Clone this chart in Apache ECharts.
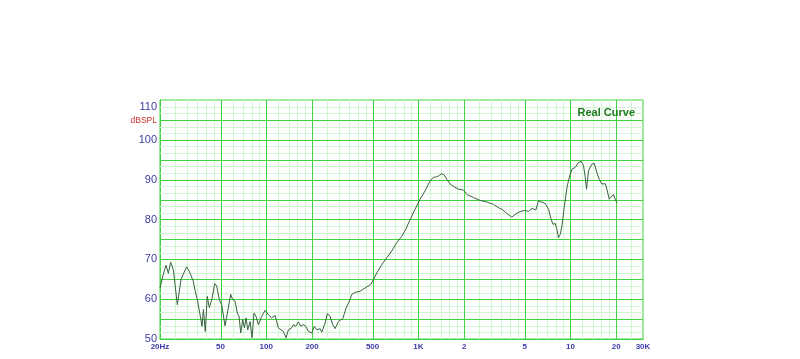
<!DOCTYPE html>
<html>
<head>
<meta charset="utf-8">
<script src="https://cdn.jsdelivr.net/npm/echarts@6/dist/echarts.min.js"></script>
<style>
html,body{margin:0;padding:0;background:#fff;}
#chart{width:800px;height:359px;}
</style>
</head>
<body>
<div id="chart"></div>
<script>
// Frequency (Hz) and SPL (dB)
var freqHz = [20,21.0,21.9,22.7,23.5,24.5,26.0,27.5,29.9,31.2,33.1,34.0,35.2,36.7,37.8,38.6,39.7,40.9,42.2,43.8,45.8,47.2,49.1,50.9,53.5,55.5,58.3,60.1,62.3,64.5,66.2,67.9,70.0,71.8,73.6,75.5,78.2,80.6,83.0,85.6,88.7,93.3,98.2,103.2,108.6,114.2,120.0,129.5,134.9,139.7,146.9,150.6,156.2,162.5,168.3,175.4,181.6,189.2,199.0,207,214.7,225.8,
  231.6,243.6,252.2,262.5,273.6,283.3,297.9,318.4,334.9,351.9,364.9,383.9,414,446.5,486.6,506,533.3,575.4,620,668.5,721,778,830,873,952,1027,1107,1195,1256,1322,1377,1427,1477,1539,1618,1719,1836,1979,2084,2303,2547,2820,3120,3415,
  3540,3820,4120,4335,4670,5040,5300,5575,5925,6165,6325,6825,7180,7470,7670,7940,8150,8340,8570,8790,9100,9485,9820,10230,10750,11300,11780,12190,12510,12760,13150,13840,14330,14920,15450,16100,16930,17370,17990,18540,19190,19690,20220];
var splDb = [62.8,66.2,68.5,66.5,69.3,67.3,58.6,65.0,68.1,67.0,64.5,62.2,59.9,56.0,53.2,57.4,51.9,60.7,57.9,59.9,63.9,63.3,59.9,58.6,53.3,56.5,61.2,59.9,59.5,56.5,55.7,51.5,54.9,52.8,55.3,52.3,54.4,50.3,56.5,55.7,53.6,55.7,57.2,56.1,55.3,55.9,52.8,51.9,50.3,52.3,52.8,53.6,53.2,54.3,53.2,53.6,53.2,51.9,51.5,53.2,52.3,52.6,
  51.7,54.0,56.4,55.7,53.6,52.6,54.4,55.1,57.8,59.5,61.2,61.7,62.0,62.8,63.7,64.9,66.6,68.7,70.4,72.1,74.2,75.8,77.7,79.6,82.6,85.1,87.2,89.7,90.6,90.7,91.1,91.5,91.2,90.1,88.9,88.2,87.6,87.4,86.3,85.5,84.8,84.4,83.8,82.8,
  82.6,81.5,80.6,81.3,82.0,82.3,82.0,82.8,82.4,84.7,85.1,84.0,82.6,80.0,78.8,79.0,77.5,75.4,76.3,78.4,83.0,88.0,90.6,92.6,93.1,94.3,94.6,93.5,90.6,87.6,92.2,93.9,94.1,91.8,90.1,88.9,89.0,87.6,85.1,85.5,86.3,85.1,84.2];

var xTickFreqs = [20,50,100,200,500,1000,2000,5000,10000,20000,30000];
var xTickLabels = ['20Hz','50','100','200','500','1K','2','5','10','20','30K'];
var majorGridFreqs = [50,100,200,500,1000,2000,5000,10000,20000];
var minorGridFreqs = [25,30,35,40,45,60,70,80,90,120,140,160,180,250,300,350,400,450,600,700,800,900,1200,1400,1600,1800,2500,3000,3500,4000,4500,6000,7000,8000,9000,12000,14000,16000,18000,25000];
var yTickValues = [50,60,70,80,90,100,110];
var yMin = 50, yMax = 110, yMajorStep = 5, yMinorPerMajor = 3;

var lg = function(v){ return Math.log10(v); };
var curve = freqHz.map(function(f,i){ return [lg(f), splDb[i]]; });
var tickVals = xTickFreqs.map(lg);

// grid line list: [direction (0 = vertical, 1 = horizontal), axis value, major flag]
var gridLines = [];
minorGridFreqs.forEach(function(f){ gridLines.push([0, lg(f), 0]); });
for (var m = yMin; m < yMax; m += yMajorStep) {
  for (var k = 1; k < yMinorPerMajor; k++) gridLines.push([1, m + k * yMajorStep / yMinorPerMajor, 0]);
}
majorGridFreqs.forEach(function(f){ gridLines.push([0, lg(f), 1]); });
for (var v = yMin + yMajorStep; v < yMax; v += yMajorStep) gridLines.push([1, v, 1]);

var blue = '#3b3ba6';
var gMajor = '#3fd43f', gMinor = '#d3f4d3';
var font = 'Liberation Sans, Arial, sans-serif';
var xMin = lg(20), xMax = lg(30000);

function renderGrid(params, api) {
  var dir = api.value(0), val = api.value(1), maj = api.value(2);
  var p1, p2;
  if (dir === 0) { p1 = api.coord([val, yMin]); p2 = api.coord([val, yMax]); var x = Math.round(p1[0]) + 0.5; p1[0] = x; p2[0] = x; }
  else { p1 = api.coord([xMin, val]); p2 = api.coord([xMax, val]); var y = Math.round(p1[1]) + 0.5; p1[1] = y; p2[1] = y; }
  return {
    type:'line', z2: maj ? 2 : 1, silent:true,
    shape:{x1:p1[0], y1:p1[1], x2:p2[0], y2:p2[1]},
    style:{stroke: maj ? gMajor : gMinor, lineWidth:1}
  };
}

var chart = echarts.init(document.getElementById('chart'), null, {renderer:'canvas'});
chart.setOption({
  animation:false,
  backgroundColor:'#ffffff',
  title:{
    text:'Real Curve', right:160, top:102,
    textStyle:{color:'#1e7a1e', fontSize:11, fontWeight:'bold', fontFamily:font}
  },
  graphic:[{
    type:'text', right:643, top:116,
    style:{text:'dBSPL', fill:'#d03030', fontSize:8.5, fontFamily:font, textAlign:'right'}
  }],
  grid:{left:160, top:100, width:483, height:239, show:true, borderColor:gMajor, borderWidth:1, backgroundColor:'#ffffff'},
  xAxis:{
    type:'value', min:xMin, max:xMax,
    axisLine:{show:true, lineStyle:{color:gMajor, width:1}},
    axisTick:{show:false},
    splitLine:{show:false},
    axisLabel:{
      customValues:tickVals, margin:4,
      color:blue, fontSize:8, fontWeight:'bold', fontFamily:font,
      formatter:function(v){
        var best=0, d=1e9;
        for(var i=0;i<tickVals.length;i++){ var dd=Math.abs(tickVals[i]-v); if(dd<d){d=dd;best=i;} }
        return xTickLabels[best];
      }
    }
  },
  yAxis:{
    type:'value', min:yMin, max:yMax,
    axisLine:{show:true, lineStyle:{color:gMajor, width:1}},
    axisTick:{show:false},
    splitLine:{show:false},
    axisLabel:{
      customValues:yTickValues,
      margin:3, color:blue, fontSize:11, fontFamily:font,
      formatter:function(v){
        var r = Math.round(v);
        return r===110 ? '{t|110}' : String(r);
      },
      rich:{t:{color:blue, fontSize:11, fontFamily:font, padding:[13,0,0,0]}}
    }
  },
  series:[
    {
      type:'custom', data:gridLines, renderItem:renderGrid, z:1, silent:true,
      encode:{x:1, y:1}, clip:false
    },
    {
      type:'line', data:curve, z:5, symbol:'none', smooth:false,
      lineStyle:{color:'#37623f', width:1}
    }
  ]
});
</script>
</body>
</html>
